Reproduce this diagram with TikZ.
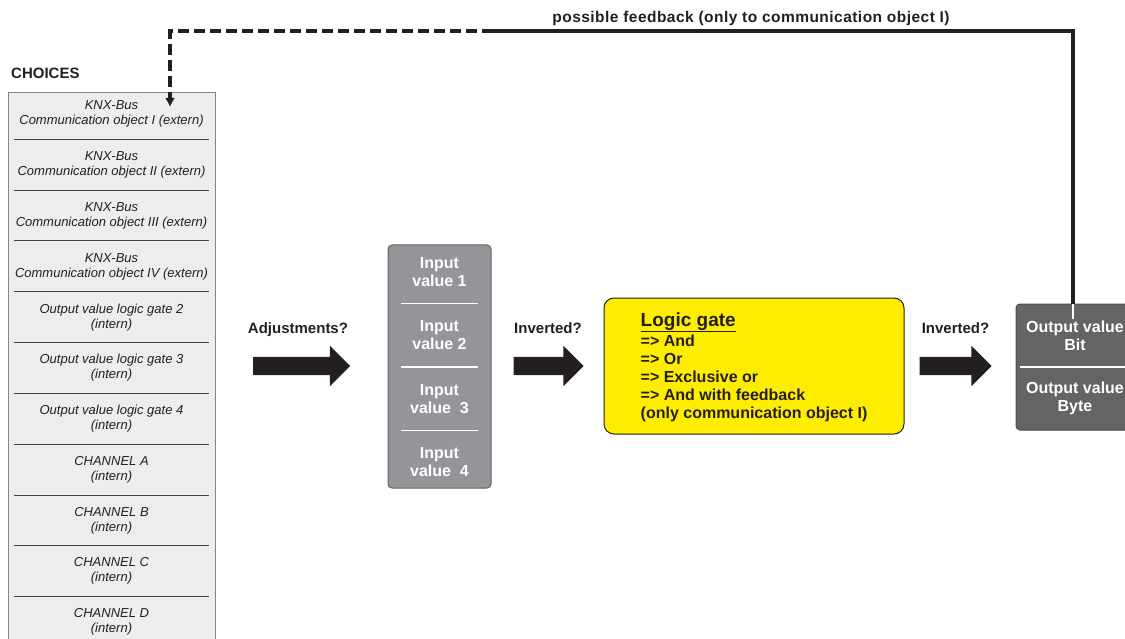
\documentclass[tikz,border=0pt]{standalone}
\usepackage{fontspec}
\setmainfont{Liberation Sans}
\usetikzlibrary{shapes.arrows, arrows.meta, positioning}
\definecolor{inkblack}{HTML}{231F20}
\definecolor{choicegray}{HTML}{ECEDEE}
\definecolor{framegray}{HTML}{858585}
\definecolor{inputgray}{HTML}{939598}
\definecolor{outputgray}{HTML}{636466}
\definecolor{gateyellow}{HTML}{FFED00}

\begin{document}
\begin{tikzpicture}[x=1pt, y=-1pt,
    choice/.style={minimum width=194pt, minimum height=50.4pt, inner sep=0pt, align=center, text=inkblack, font=\fontsize{13}{15}\selectfont\itshape},
    rowsep/.style={draw=inkblack!85, line width=1pt},
    heading/.style={font=\fontsize{15}{18}\selectfont\bfseries, text=inkblack, inner sep=0pt},
    valbox/.style={font=\fontsize{16}{18}\selectfont\bfseries, text=white, align=center, inner sep=0pt, minimum width=77pt, minimum height=63pt},
    whitesep/.style={draw=white, line width=1.5pt},
    bigarrow/.style={single arrow, fill=inkblack, draw=none, minimum width=40pt, single arrow head extend=11pt, inner xsep=0pt, inner ysep=9pt},
    feedback/.style={draw=inkblack, line width=3.2pt}
]
\clip (0,0) rectangle (1125,639);

% choices
\node[heading, anchor=west] (choiceshead) at (11,73) {CHOICES};
\node[draw=framegray, fill=choicegray, line width=1.2pt, anchor=north west, minimum width=207pt, minimum height=570pt, inner sep=0pt] (column) at (8,92) {};
\node[choice, anchor=north] (c1) at (111.5,88.6) {KNX-Bus\\Communication object I (extern)};
\node[choice, below=0pt of c1] (c2) {KNX-Bus\\Communication object II (extern)};
\node[choice, below=0pt of c2] (c3) {KNX-Bus\\Communication object III (extern)};
\node[choice, below=0pt of c3] (c4) {KNX-Bus\\Communication object IV (extern)};
\node[choice, below=0pt of c4] (c5) {Output value logic gate 2\\(intern)};
\node[choice, below=0pt of c5] (c6) {Output value logic gate 3\\(intern)};
\node[choice, below=0pt of c6] (c7) {Output value logic gate 4\\(intern)};
\node[choice, below=0pt of c7] (c8) {CHANNEL A\\(intern)};
\node[choice, below=0pt of c8] (c9) {CHANNEL B\\(intern)};
\node[choice, below=0pt of c9] (c10) {CHANNEL C\\(intern)};
\node[choice, below=0pt of c10] (c11) {CHANNEL D\\(intern)};
\draw[rowsep] (c1.south west) -- (c1.south east);
\draw[rowsep] (c2.south west) -- (c2.south east);
\draw[rowsep] (c3.south west) -- (c3.south east);
\draw[rowsep] (c4.south west) -- (c4.south east);
\draw[rowsep] (c5.south west) -- (c5.south east);
\draw[rowsep] (c6.south west) -- (c6.south east);
\draw[rowsep] (c7.south west) -- (c7.south east);
\draw[rowsep] (c8.south west) -- (c8.south east);
\draw[rowsep] (c9.south west) -- (c9.south east);
\draw[rowsep] (c10.south west) -- (c10.south east);

% adjustments
\node[bigarrow, minimum height=97pt] (adjarrow) at (297,366) {};
\node[heading, above=23pt of adjarrow, anchor=base, xshift=1pt] (adjlabel) {Adjustments?};

% input values
\node[draw=inkblack!70, fill=inputgray, rounded corners=4pt, minimum width=103pt, minimum height=243pt, line width=1pt] (inbox) at (439.5,366.5) {};
\node[valbox] (in1) at (439.5,272) {Input\\value 1};
\node[valbox, below=0pt of in1] (in2) {Input\\value 2};
\node[valbox, below=0pt of in2] (in3) {Input\\value\ \ 3};
\node[valbox, below=0pt of in3] (in4) {Input\\value\ \ 4};
\draw[whitesep] (in1.south west) -- (in1.south east);
\draw[whitesep] (in2.south west) -- (in2.south east);
\draw[whitesep] (in3.south west) -- (in3.south east);

\node[bigarrow, minimum height=70pt] (invarrow1) at (544,366) {};
\node[heading, above=23pt of invarrow1, anchor=base, xshift=4pt] (invlabel1) {Inverted?};

% logic gate
\node[draw=inkblack, fill=gateyellow, rounded corners=10pt, minimum width=300pt, minimum height=136pt, line width=1pt] (gate) at (754,366) {};
\node[anchor=west, align=left, inner sep=0pt, text=inkblack, font=\fontsize{16}{18}\selectfont\bfseries] (gatetext) at ([xshift=37pt,yshift=-1pt]gate.west)
  {{\fontsize{19}{22}\selectfont\underline{Logic gate}}\\[2pt]
   => And\\=> Or\\=> Exclusive or\\=> And with feedback\\(only communication object I)};

\node[bigarrow, minimum height=72pt] (invarrow2) at (951,366) {};
\node[heading, above=23pt of invarrow2, anchor=base, xshift=4.5pt] (invlabel2) {Inverted?};

% output values
\node[draw=inkblack!80, fill=outputgray, rounded corners=4pt, minimum width=118pt, minimum height=126pt, line width=1pt] (outbox) at (1075,367) {};
\node[valbox, minimum width=0pt, minimum height=0pt, inner sep=1pt] (outbit) at (1075,335.5) {Output value\\Bit};
\node[valbox, minimum width=0pt, minimum height=0pt, inner sep=1pt] (outbyte) at (1075,398.5) {Output value\\Byte};
\draw[whitesep] ([xshift=4pt]outbox.west) -- (outbox.east);

% feedback
\coordinate (fbsplit) at (493,31);
\coordinate (fbin) at (170,107);
\draw[whitesep, line width=2.8pt] ([xshift=-2pt]outbit.north) -- ([xshift=-2pt]outbox.north);
\draw[feedback] ([xshift=-2pt]outbox.north) |- (fbsplit);
\draw[feedback, dash pattern=on 11pt off 5pt, -{Latex[length=9pt, width=10pt]}] (fbsplit) -| (fbin);
\node[heading, font=\fontsize{15.5}{18}\selectfont\bfseries\addfontfeature{LetterSpace=3}] (fblabel) at (751,18) {possible feedback (only to communication object I)};

\end{tikzpicture}
\end{document}
